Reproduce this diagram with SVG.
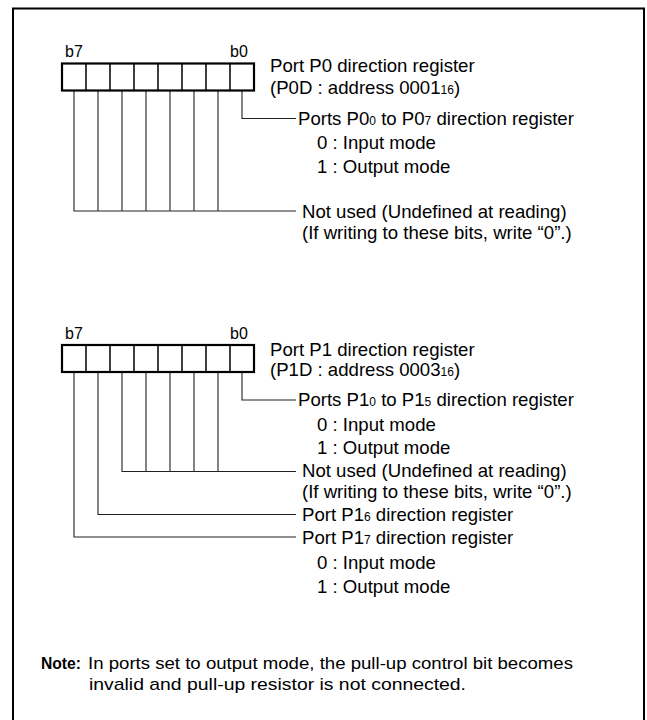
<svg xmlns="http://www.w3.org/2000/svg" width="647" height="720" viewBox="0 0 647 720">
<style>
text{font-family:"Liberation Sans",Arial,sans-serif;fill:#000}
.t{font-size:18.6px}
.b{font-size:16px}
.s{font-size:12px}
.n{font-size:17px}
.nb{font-size:17px;font-weight:bold}
.box{fill:#fff;stroke:#000;stroke-width:2.2}
.div{stroke:#000;stroke-width:1.5}
.con{fill:none;stroke:#222;stroke-width:1.1}
</style>
<rect x="13" y="8.5" width="631" height="720" fill="#fff" stroke="#000" stroke-width="2"/>

<g id="connectors">
<path class="con" d="M242 91V118.5H296"/>
<path class="con" d="M74 91V211H296M98 91V211M122 91V211M146 91V211M170 91V211M194 91V211M218 91V211"/>
<path class="con" d="M242 372V400H296"/>
<path class="con" d="M122 372V471.5H296M146 372V471.5M170 372V471.5M194 372V471.5M218 372V471.5"/>
<path class="con" d="M98 372V514.5H296"/>
<path class="con" d="M74 372V537H296"/>
</g>

<g id="reg0">
<rect class="box" x="62" y="63.5" width="192" height="27"/>
<path class="div" d="M86 63.5V90.5M110 63.5V90.5M134 63.5V90.5M158 63.5V90.5M182 63.5V90.5M206 63.5V90.5M230 63.5V90.5"/>
<text class="b" x="65" y="57">b7</text>
<text class="b" x="230" y="57">b0</text>
<text class="t" x="270" y="72">Port P0 direction register</text>
<text class="t" x="270" y="93.5">(P0D : address 0001<tspan class="s">16</tspan>)</text>
</g>

<g id="p0-bits">
<text class="t" x="298" y="124.5">Ports P0<tspan class="s">0</tspan> to P0<tspan class="s">7</tspan> direction register</text>
<text class="t" x="317" y="148.5">0 : Input mode</text>
<text class="t" x="317" y="172.5">1 : Output mode</text>
</g>

<g id="p0-unused">
<text class="t" x="302" y="217.5">Not used (Undefined at reading)</text>
<text class="t" x="302" y="239">(If writing to these bits, write “0”.)</text>
</g>

<g id="reg1">
<rect class="box" x="62" y="345" width="192" height="27"/>
<path class="div" d="M86 345V372M110 345V372M134 345V372M158 345V372M182 345V372M206 345V372M230 345V372"/>
<text class="b" x="65" y="338.5">b7</text>
<text class="b" x="230" y="338.5">b0</text>
<text class="t" x="270" y="355.5">Port P1 direction register</text>
<text class="t" x="270" y="376">(P1D : address 0003<tspan class="s">16</tspan>)</text>
</g>

<g id="p1-bits">
<text class="t" x="298" y="405.5">Ports P1<tspan class="s">0</tspan> to P1<tspan class="s">5</tspan> direction register</text>
<text class="t" x="317" y="430.5">0 : Input mode</text>
<text class="t" x="317" y="454">1 : Output mode</text>
</g>

<g id="p1-unused">
<text class="t" x="302" y="477">Not used (Undefined at reading)</text>
<text class="t" x="302" y="497.5">(If writing to these bits, write “0”.)</text>
</g>

<g id="p16">
<text class="t" x="302" y="520.5">Port P1<tspan class="s">6</tspan> direction register</text>
</g>

<g id="p17">
<text class="t" x="302" y="543.5">Port P1<tspan class="s">7</tspan> direction register</text>
<text class="t" x="317" y="568.5">0 : Input mode</text>
<text class="t" x="317" y="593">1 : Output mode</text>
</g>

<g id="note">
<text class="nb" x="41" y="669" textLength="40" lengthAdjust="spacingAndGlyphs">Note:</text>
<text class="n" x="88" y="669" textLength="485" lengthAdjust="spacingAndGlyphs">In ports set to output mode, the pull-up control bit becomes</text>
<text class="n" x="89" y="690" textLength="377" lengthAdjust="spacingAndGlyphs">invalid and pull-up resistor is not connected.</text>
</g>
</svg>
